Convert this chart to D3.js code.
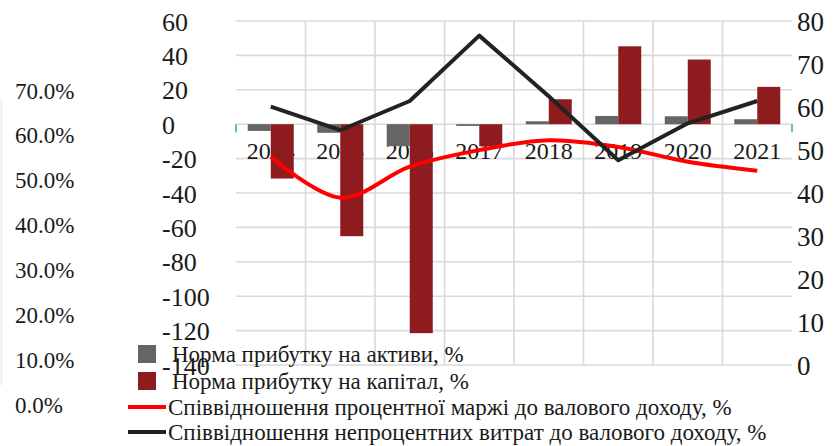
<!DOCTYPE html>
<html>
<head>
<meta charset="utf-8">
<script src="https://cdn.jsdelivr.net/npm/d3@7/dist/d3.min.js"></script>
<style>
  html, body { margin: 0; padding: 0; background: #ffffff; }
</style>
</head>
<body>
<svg id="chart" width="840" height="446" font-family="Liberation Serif"></svg>
<script>
// Years on the category axis
const years = ["2014", "2015", "2016", "2017", "2018", "2019", "2020", "2021"];

// Return on assets, % (grey bars)
const roa = [-3.9, -5.0, -12.8, -1.0, 1.7, 4.8, 4.6, 2.9];
// Return on equity, % (dark red bars)
const roe = [-31.6, -65.1, -121.5, -12.8, 14.5, 45.3, 37.6, 21.7];
// Interest margin to gross income (red smoothed line), share
const marginRatio = [0.551, 0.460, 0.529, 0.566, 0.588, 0.573, 0.540, 0.520];
// Non-interest expenses to gross income, % (black line)
const costRatio = [60.1, 54.6, 61.4, 76.6, 62.5, 47.6, 56.2, 61.4];

// Tick values for the three value axes
const leftTicks = [-140, -120, -100, -80, -60, -40, -20, 0, 20, 40, 60];
const rightTicks = [0, 10, 20, 30, 40, 50, 60, 70, 80];
const pctTicks = [0, 0.1, 0.2, 0.3, 0.4, 0.5, 0.6, 0.7];

// Legend entries
const legendLabels = [
  "Норма прибутку на активи, %",
  "Норма прибутку на капітал, %",
  "Співвідношення процентної маржі до валового доходу, %",
  "Співвідношення непроцентних витрат до валового доходу, %"
];

const colors = {
  roa: "#656565",
  roe: "#8e1c1f",
  margin: "#ff0000",
  cost: "#222222",
  grid: "#d9d9d9",
  tick: "#3fb27a",
  text: "#1a1a1a"
};

const serif = "'Liberation Serif', 'DejaVu Serif', serif";

const svg = d3.select("#chart");

const plot = { left: 236, right: 792, top: 21, bottom: 365 };

const x = d3.scaleBand().domain(years).range([plot.left, plot.right]).padding(0);
const xSub = d3.scaleBand().domain(["roa", "roe"]).range([0, x.bandwidth()])
  .paddingInner(0).paddingOuter(0.51);
const yL = d3.scaleLinear().domain([-140, 60]).range([plot.bottom, plot.top]);
const yR = d3.scaleLinear().domain([0, 80]).range([plot.bottom, plot.top]);
const yP = d3.scaleLinear().domain([0, 0.7]).range([404, 90]);

// Faint frame edge of the percentage panel on the far left
svg.append("line")
  .attr("x1", 1.5).attr("x2", 1.5).attr("y1", 100).attr("y2", 385)
  .attr("stroke", "#ececec").attr("stroke-width", 2);

// Horizontal gridlines
svg.append("g").selectAll("line").data(leftTicks).join("line")
  .attr("x1", plot.left).attr("x2", plot.right)
  .attr("y1", d => yL(d)).attr("y2", d => yL(d))
  .attr("stroke", colors.grid).attr("stroke-width", 1.6);

// Vertical gridlines between categories
svg.append("g").selectAll("line").data(years.slice(1)).join("line")
  .attr("x1", d => x(d)).attr("x2", d => x(d))
  .attr("y1", plot.top).attr("y2", plot.bottom)
  .attr("stroke", colors.grid).attr("stroke-width", 1.6);

// Category labels (sit under the bars)
svg.append("g").selectAll("text").data(years).join("text")
  .attr("x", d => x(d) + x.bandwidth() / 2)
  .attr("y", yL(0) + 35)
  .attr("text-anchor", "middle")
  .attr("font-size", 24)
  .attr("fill", colors.text)
  .text(d => d);

// Bars
const groups = svg.append("g").selectAll("g").data(years).join("g")
  .attr("transform", d => `translate(${x(d)},0)`);
groups.append("rect")
  .attr("x", xSub("roa")).attr("width", xSub.bandwidth())
  .attr("y", (d, i) => yL(Math.max(0, roa[i])))
  .attr("height", (d, i) => Math.abs(yL(roa[i]) - yL(0)))
  .attr("fill", colors.roa);
groups.append("rect")
  .attr("x", xSub("roe")).attr("width", xSub.bandwidth())
  .attr("y", (d, i) => yL(Math.max(0, roe[i])))
  .attr("height", (d, i) => Math.abs(yL(roe[i]) - yL(0)))
  .attr("fill", colors.roe);

// Green tick marks at both ends of the zero line
svg.append("g").selectAll("line").data([plot.left, plot.right]).join("line")
  .attr("x1", d => d).attr("x2", d => d)
  .attr("y1", yL(0)).attr("y2", yL(0) + 8)
  .attr("stroke", colors.tick).attr("stroke-width", 1.6);

const cx = d => x(d) + x.bandwidth() / 2;

// Interest margin ratio, smoothed
svg.append("path")
  .datum(years)
  .attr("fill", "none")
  .attr("stroke", colors.margin)
  .attr("stroke-width", 4)
  .attr("stroke-linejoin", "round")
  .attr("d", d3.line().x(d => cx(d)).y((d, i) => yP(marginRatio[i]))
    .curve(d3.curveCatmullRom.alpha(0)));

// Non-interest expense ratio
svg.append("path")
  .datum(years)
  .attr("fill", "none")
  .attr("stroke", colors.cost)
  .attr("stroke-width", 4)
  .attr("stroke-linejoin", "round")
  .attr("d", d3.line().x(d => cx(d)).y((d, i) => yR(costRatio[i])));

// Axis text styling shared by the three value axes
function styleAxis(g, size) {
  g.attr("font-family", null).attr("font-size", null);
  g.select(".domain").remove();
  g.selectAll("text").attr("text-anchor", "start").attr("x", 0).attr("dy", "0.35em")
    .attr("font-size", size).attr("fill", colors.text);
}

// Left value axis
svg.append("g").attr("transform", "translate(162,0)")
  .call(d3.axisLeft(yL).tickValues(leftTicks).tickSize(0).tickPadding(0)
    .tickFormat(d => (d < 0 ? "-" : "") + Math.abs(d)))
  .call(g => styleAxis(g, 26));

// Right value axis
svg.append("g").attr("transform", "translate(797,0)")
  .call(d3.axisRight(yR).tickValues(rightTicks).tickSize(0).tickPadding(0))
  .call(g => styleAxis(g, 27));

// Percentage axis on the far left
svg.append("g").attr("transform", "translate(15,0)")
  .call(d3.axisLeft(yP).tickValues(pctTicks).tickSize(0).tickPadding(0)
    .tickFormat(d3.format(".1%")))
  .call(g => styleAxis(g, 23));

// Legend
const legendRows = [354, 381, 407, 432];
const legend = svg.append("g");
legendLabels.forEach((label, i) => {
  const y = legendRows[i];
  if (i < 2) {
    legend.append("rect")
      .attr("x", 138).attr("y", y - 9).attr("width", 18).attr("height", 18)
      .attr("fill", i === 0 ? colors.roa : colors.roe);
    legend.append("text")
      .attr("x", 172).attr("y", y).attr("dy", "0.35em")
      .attr("font-size", 23).attr("fill", colors.text).text(label);
  } else {
    legend.append("line")
      .attr("x1", 128).attr("x2", 166).attr("y1", y).attr("y2", y)
      .attr("stroke", i === 2 ? colors.margin : colors.cost).attr("stroke-width", 4);
    legend.append("text")
      .attr("x", 168).attr("y", y).attr("dy", "0.35em")
      .attr("font-size", 23).attr("fill", colors.text).text(label);
  }
});

// Serif face for every label
svg.selectAll("text").style("font-family", serif);
</script>
</body>
</html>
